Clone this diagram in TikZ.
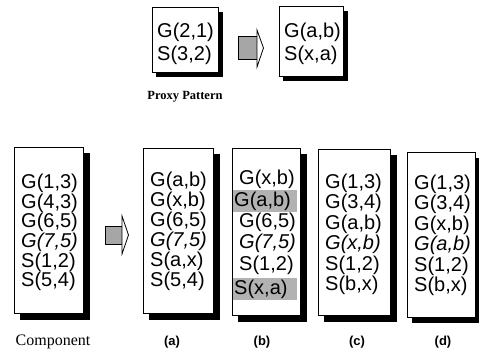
\documentclass[tikz,border=0pt]{standalone}
\usepackage{fontspec}
\setmainfont{Liberation Serif}
\newfontfamily\rowfont{Liberation Sans}
\usetikzlibrary{calc}
\tikzset{
  panel/.style={draw=black, line width=0.9pt, fill=white, rectangle, inner sep=0pt},
  bar/.style={fill=black, draw=none},
  row/.style={anchor=west, inner sep=0pt, font=\rowfont\fontsize{20}{20}\selectfont},
  irow/.style={row, font=\rowfont\itshape\fontsize{20}{20}\selectfont},
  hl/.style={fill=black!30, draw=none},
  caption/.style={font=\fontsize{16}{16}\selectfont},
  sublabel/.style={font=\rowfont\bfseries\fontsize{13}{13}\selectfont},
  arrowbody/.style={draw=black, line width=0.8pt, fill=black!35},
  arrowhead/.style={draw=black, line width=0.8pt, fill=white},
}
\begin{document}
\begin{tikzpicture}[x=1pt,y=-1pt]
\useasboundingbox (0,0) rectangle (479,356);
% ---- top: proxy pattern
\node[panel, minimum width=66pt, minimum height=65pt] (p1) at (185,39.5) {};
\node[row] (p1a) at (157,32) {G(2,1)};
\node[row] (p1b) at (157,55) {S(3,2)};
\node[panel, minimum width=64pt, minimum height=70pt] (p2) at (311,41) {};
\node[row] (p2a) at (284,32) {G(a,b)};
\node[row] (p2b) at (284,55) {S(x,a)};
\coordinate (ta) at (238,48);
\draw[arrowbody] ($(ta)+(0,-11.5)$) rectangle ($(ta)+(19,11.5)$);
\draw[arrowhead] ($(ta)+(19,-18)$) -- ($(ta)+(25.5,0)$) -- ($(ta)+(19,19)$) -- cycle;
\node[font=\bfseries\fontsize{12.5}{12.5}\selectfont] (proxy) at (185,97) {Proxy Pattern};
% ---- component
\node[panel, minimum width=69pt, minimum height=166pt] (comp) at (48.5,230) {};
\node[row]  (c1) at (21,183) {G(1,3)};
\node[row]  (c2) at (21,203) {G(4,3)};
\node[row]  (c3) at (21,222) {G(6,5)};
\node[irow] (c4) at (21,242) {G(7,5)};
\node[row]  (c5) at (21,262) {S(1,2)};
\node[row]  (c6) at (21,281) {S(5,4)};
\node[caption] (compl) at (53,342) {Component};
\coordinate (ba) at (105,235);
\draw[arrowbody] ($(ba)+(0,-9)$) rectangle ($(ba)+(17,9)$);
\draw[arrowhead] ($(ba)+(17,-19)$) -- ($(ba)+(23.5,0)$) -- ($(ba)+(17,19)$) -- cycle;
% ---- (a)
\node[panel, minimum width=70pt, minimum height=165pt] (boxa) at (178,230.5) {};
\node[row]  (a1) at (150,181) {G(a,b)};
\node[row]  (a2) at (150,201) {G(x,b)};
\node[row]  (a3) at (150,221) {G(6,5)};
\node[irow] (a4) at (150,241) {G(7,5)};
\node[row]  (a5) at (150,261) {S(a,x)};
\node[row]  (a6) at (150,281) {S(5,4)};
\node[sublabel] (la) at (172,342) {(a)};
% ---- (b)
\node[panel, minimum width=68pt, minimum height=167pt] (boxb) at (266,231.5) {};
\fill[hl] (232.5,190) rectangle (297,212);
\fill[hl] (232.5,278) rectangle (297,300);
\node[row]  (b1) at (239,179) {G(x,b)};
\node[row]  (b2) at (234,201) {G(a,b)};
\node[row]  (b3) at (239,222) {G(6,5)};
\node[irow] (b4) at (239,243) {G(7,5)};
\node[row]  (b5) at (239,265) {S(1,2)};
\node[row]  (b6) at (234,289) {S(x,a)};
\node[sublabel] (lb) at (262,342) {(b)};
% ---- (c)
\node[panel, minimum width=72pt, minimum height=166pt] (boxc) at (354,232) {};
\node[row]  (cc1) at (325,183) {G(1,3)};
\node[row]  (cc2) at (325,203) {G(3,4)};
\node[row]  (cc3) at (325,224) {G(a,b)};
\node[irow] (cc4) at (325,244) {G(x,b)};
\node[row]  (cc5) at (325,265) {S(1,2)};
\node[row]  (cc6) at (325,285) {S(b,x)};
\node[sublabel] (lc) at (357,342) {(c)};
% ---- (d)
\node[panel, minimum width=68pt, minimum height=165pt] (boxd) at (441,234.5) {};
\node[row]  (d1) at (414,184) {G(1,3)};
\node[row]  (d2) at (414,204) {G(3,4)};
\node[row]  (d3) at (414,225) {G(x,b)};
\node[irow] (d4) at (414,245) {G(a,b)};
\node[row]  (d5) at (414,266) {S(1,2)};
\node[row]  (d6) at (414,286) {S(b,x)};
\node[sublabel] (ld) at (443,342) {(d)};
% ---- shadow bars (right and bottom of each panel)
\fill[bar] (218.5,12) rectangle (222.5,76.5);
\fill[bar] (156,72.5) rectangle (222.5,76.5);
\fill[bar] (343.5,11) rectangle (347.5,80.5);
\fill[bar] (283,76.5) rectangle (347.5,80.5);
\fill[bar] (83.5,153) rectangle (89.5,319.5);
\fill[bar] (20,313.5) rectangle (89.5,319.5);
\fill[bar] (213.5,154) rectangle (219.5,319.5);
\fill[bar] (149,313.5) rectangle (219.5,319.5);
\fill[bar] (300.5,154) rectangle (306.5,321.5);
\fill[bar] (238,315.5) rectangle (306.5,321.5);
\fill[bar] (390.5,155) rectangle (396.5,321.5);
\fill[bar] (324,315.5) rectangle (396.5,321.5);
\fill[bar] (475.5,158) rectangle (479,323);
\fill[bar] (412,317.5) rectangle (479,323);
\end{tikzpicture}
\end{document}
